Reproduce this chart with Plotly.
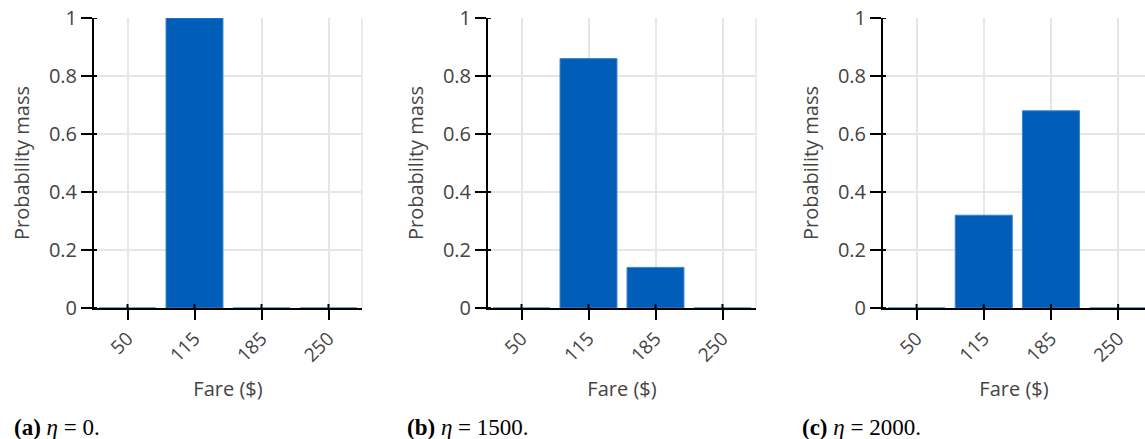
import plotly.graph_objects as go

# Fare categories and probability mass for each eta setting
fares = ["50", "115", "185", "250"]
mass_eta0 = [0.0, 1.0, 0.0, 0.0]
mass_eta1500 = [0.0, 0.86, 0.14, 0.0]
mass_eta2000 = [0.0, 0.32, 0.68, 0.0]
captions = ["<b>(a)</b> <i>η</i> = 0.", "<b>(b)</b> <i>η</i> = 1500.", "<b>(c)</b> <i>η</i> = 2000."]
y_ticks = [0, 0.2, 0.4, 0.6, 0.8, 1]
y_tick_text = ["0", "0.2", "0.4", "0.6", "0.8", "1"]

W, H = 1145, 439
BAR = "#005EB8"
EDGE = "#3C86C9"
GRID = "#E6E6E6"
TXT = "#444444"
FONT = "Open Sans"

# pixel layout of each panel: (left, right) in px, and x-range upper bound
panels = [
    (94, 362, 3.5),
    (488, 756, 3.5),
    (883, 1145, 3.4),
]
series = [mass_eta0, mass_eta1500, mass_eta2000]
caption_x = [12, 405, 800]

fig = go.Figure()
layout = {}
shapes = []
annotations = []
for i, ((x0, x1, xmax), vals) in enumerate(zip(panels, series), start=1):
    sfx = "" if i == 1 else str(i)
    xa, ya = "x" + sfx, "y" + sfx
    fig.add_trace(go.Bar(
        x=list(range(len(fares))), y=vals,
        xaxis=xa, yaxis=ya,
        width=0.85,
        marker=dict(color=BAR, line=dict(color=EDGE, width=1)),
        showlegend=False,
    ))
    layout["xaxis" + sfx] = dict(
        domain=[x0 / W, x1 / W], anchor=ya,
        range=[-0.5, xmax],
        tickvals=list(range(len(fares))), ticktext=fares,
        tickangle=-45,
        ticks="outside", ticklen=10, tickwidth=2, tickcolor="black",
        showline=True, linecolor="black", linewidth=2,
        showgrid=True, gridcolor=GRID, gridwidth=1.5,
        zeroline=False,
        tickfont=dict(family=FONT, size=19, color=TXT),
        title=dict(text="Fare ($)", font=dict(family=FONT, size=20, color=TXT), standoff=16),
        fixedrange=True,
    )
    layout["yaxis" + sfx] = dict(
        domain=[0, 1], anchor=xa,
        range=[0, 1],
        tickvals=y_ticks, ticktext=y_tick_text,
        ticks="outside", ticklen=11, tickwidth=2, tickcolor="black",
        showline=True, linecolor="black", linewidth=2,
        showgrid=True, gridcolor=GRID, gridwidth=1.5,
        zeroline=False,
        tickfont=dict(family=FONT, size=20, color=TXT),
        title=dict(text="Probability mass", font=dict(family=FONT, size=20, color=TXT), standoff=14),
        fixedrange=True,
    )
    # short inner stubs so the tick marks cross the axis lines
    for k in range(len(fares)):
        shapes.append(dict(type="line", xref=xa, yref=ya + " domain",
                           x0=k, x1=k, ysizemode="pixel", yanchor=0, y0=0, y1=4,
                           line=dict(color="black", width=2)))
    for t in y_ticks:
        shapes.append(dict(type="line", xref=xa + " domain", yref=ya,
                           y0=t, y1=t, xsizemode="pixel", xanchor=0, x0=0, x1=3,
                           line=dict(color="black", width=2)))
    if xmax >= 3.5:
        shapes.append(dict(type="line", xref=xa + " domain", yref=ya + " domain",
                           x0=1, x1=1, y0=0, y1=1, line=dict(color=GRID, width=1.5), layer="below"))
    annotations.append(dict(
        text=captions[i - 1], xref="paper", yref="paper",
        x=caption_x[i - 1] / W, y=-(427 - 308) / (H - 18 - 131),
        xanchor="left", yanchor="middle", showarrow=False,
        font=dict(family="Liberation Serif", size=23, color="black"),
    ))

fig.update_layout(
    **layout,
    width=W, height=H,
    margin=dict(l=0, r=0, t=18, b=131),
    paper_bgcolor="white", plot_bgcolor="white",
    bargap=0.15,
    shapes=shapes,
    annotations=annotations,
)

fig.write_html("out.html", include_plotlyjs=True, config={"displayModeBar": False})
